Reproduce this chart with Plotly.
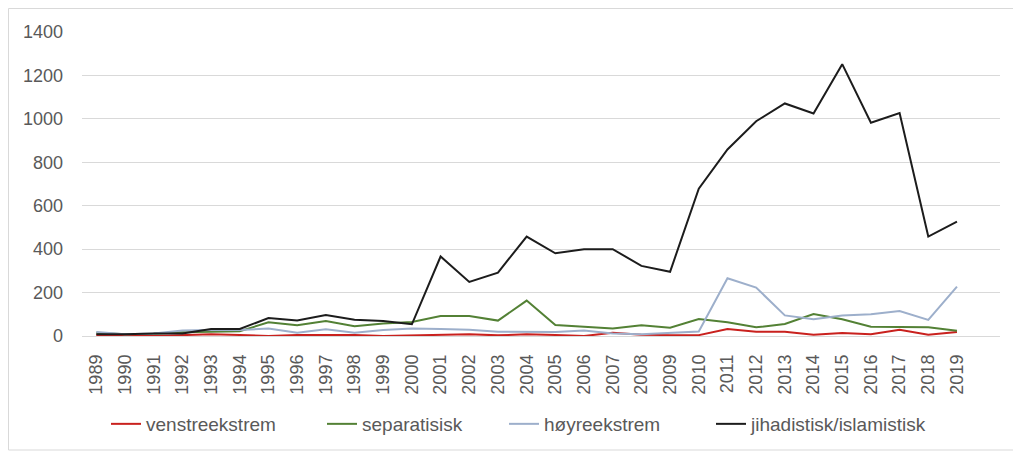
import plotly.graph_objects as go

years = [str(y) for y in range(1989, 2020)]

venstreekstrem = [5, 0, 0, 5, 8, 5, 0, 5, 5, 5, 0, 2, 5, 8, 3, 8, 5, 0, 15, 6,
                  4, 4, 32, 20, 20, 6, 14, 8, 29, 6, 18]
separatisisk = [15, 8, 10, 17, 20, 22, 63, 49, 69, 45, 58, 65, 92, 92, 71, 163, 51,
                43, 35, 49, 38, 78, 63, 40, 55, 101, 77, 43, 40, 40, 24]
hoyreekstrem = [18, 8, 12, 25, 28, 28, 34, 15, 31, 15, 28, 34, 32, 29, 20, 20, 18,
                25, 12, 8, 15, 21, 266, 223, 95, 77, 94, 100, 115, 74, 227]
jihadistisk = [8, 8, 12, 12, 32, 32, 83, 71, 97, 75, 69, 54, 366, 249, 292, 458,
               381, 400, 400, 323, 296, 678, 859, 989, 1071, 1025, 1252, 982, 1027,
               458, 527]

series = [
    ("venstreekstrem", venstreekstrem, "#C9211E"),
    ("separatisisk", separatisisk, "#538135"),
    ("høyreekstrem", hoyreekstrem, "#9DAFCB"),
    ("jihadistisk/islamistisk", jihadistisk, "#1C1C1C"),
]

FONT = "Liberation Sans, Arial, sans-serif"

# page body has an 8px margin, so the figure is 8px smaller and shifted
W, H = 1013, 447
L, R, T, B = 74, 21, 24, 119
pw, ph = W - L - R, H - T - B

def px_x(x):
    return (x - L) / pw

def px_y(y):
    return (H - B - y) / ph

legend_names = ["legend", "legend2", "legend3", "legend4"]
legend_left = [98, 314, 496, 703]

fig = go.Figure()
for (name, vals, col), lg in zip(series, legend_names):
    fig.add_trace(go.Scatter(x=years, y=vals, mode="lines", name=name,
                             line=dict(color=col, width=2), legend=lg))

legend_cfg = {}
for lg, lx in zip(legend_names, legend_left):
    legend_cfg[lg] = dict(orientation="h", x=px_x(lx), xanchor="left",
                          y=px_y(416), yanchor="middle", bgcolor="rgba(0,0,0,0)",
                          font=dict(family=FONT, size=19, color="#595959"))

fig.update_layout(
    width=W, height=H, autosize=False,
    margin=dict(l=L, r=R, t=T, b=B),
    paper_bgcolor="white", plot_bgcolor="white",
    font=dict(family=FONT, size=18, color="#595959"),
    showlegend=True,
    xaxis=dict(type="category", categoryorder="array", categoryarray=years,
               range=[-0.5, 31.5], tickangle=-90, showgrid=False, zeroline=False,
               showline=False, ticks="", ticklabelstandoff=14, automargin=False,
               tickfont=dict(family=FONT, size=18, color="#595959")),
    yaxis=dict(range=[0, 1400], dtick=200, showgrid=True, gridcolor="#D9D9D9",
               gridwidth=1, zeroline=True, zerolinecolor="#D9D9D9", zerolinewidth=1,
               showline=False, ticks="", ticklabelstandoff=18, automargin=False,
               tickfont=dict(family=FONT, size=18, color="#595959")),
    shapes=[dict(type="rect", xref="paper", yref="paper",
                 x0=px_x(0.5), x1=px_x(1007), y0=px_y(442), y1=px_y(0.5),
                 line=dict(color="#D9D9D9", width=1), layer="below")],
    **legend_cfg,
)

fig.write_html("out.html")
